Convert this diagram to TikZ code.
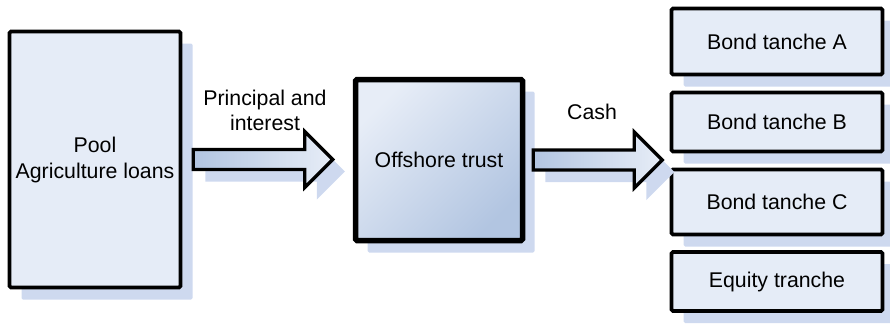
\documentclass[tikz,border=0pt]{standalone}
\usepackage{fontspec}
\setmainfont{Liberation Sans}
\usetikzlibrary{shadows,calc}

\definecolor{boxfill}{RGB}{229,236,247}
\definecolor{shadowblue}{RGB}{206,217,239}
\definecolor{gradlight}{RGB}{231,237,247}
\definecolor{graddark}{RGB}{178,197,225}

\tikzset{
  blockshadow/.style={drop shadow={shadow xshift=12pt,shadow yshift=-12pt,fill=shadowblue,opacity=1}},
  plainbox/.style={draw,line width=3.6pt,rounded corners=1.5pt,fill=boxfill,blockshadow,align=center,inner sep=0pt},
  trustbox/.style={plainbox,line width=5.5pt,top color=gradlight,bottom color=graddark,shading angle=45},
  flowarrow/.style={draw,line width=3.3pt,line join=miter,left color=graddark,right color=gradlight,blockshadow},
}

% fat arrow from #1 to #2 (tip at #2)
\newcommand{\blockarrow}[2]{%
  \draw[flowarrow] let \p1=(#1), \p2=(#2) in
    (\x1,\y1+10pt) -- (\x2-28pt,\y1+10pt) -- (\x2-28pt,\y1+28pt) -- (\x2,\y1)
    -- (\x2-28pt,\y1-28pt) -- (\x2-28pt,\y1-10pt) -- (\x1,\y1-10pt) -- cycle;}

\begin{document}
\begin{tikzpicture}[x=1pt,y=-1pt,every node/.style={font=\fontsize{21.3}{26}\selectfont}]
  \useasboundingbox (0,0) rectangle (890,324);

  \node[plainbox,minimum width=171,minimum height=256] (pool) at (95,159.5) {Pool\\Agriculture loans};
  \node[trustbox,minimum width=167,minimum height=161] (trust) at (439,160) {Offshore trust};

  \node[plainbox,minimum width=211,minimum height=66] (trA) at (777,41.5) {Bond tanche A};
  \node[plainbox,minimum width=211,minimum height=59] (trB) at (777,122) {Bond tanche B};
  \node[plainbox,minimum width=211,minimum height=65] (trC) at (777,202) {Bond tanche C};
  \node[plainbox,minimum width=211,minimum height=59] (equity) at (777,281.5) {Equity tranche};

  \coordinate (a1s) at ($(pool.east)+(11,0)$);
  \coordinate (a1e) at ($(trust.west)+(-20,0)$);
  \coordinate (a2s) at ($(trust.east)+(8,0)$);
  \coordinate (a2e) at ($(trust.east)+(137,0)$);
  \blockarrow{a1s}{a1e}
  \blockarrow{a2s}{a2e}

  \node[align=center,font=\fontsize{21.3}{25}\selectfont] (pilabel) at (265,110) {Principal and\\interest};
  \node (cashlabel) at (592,112) {Cash};
\end{tikzpicture}
\end{document}
